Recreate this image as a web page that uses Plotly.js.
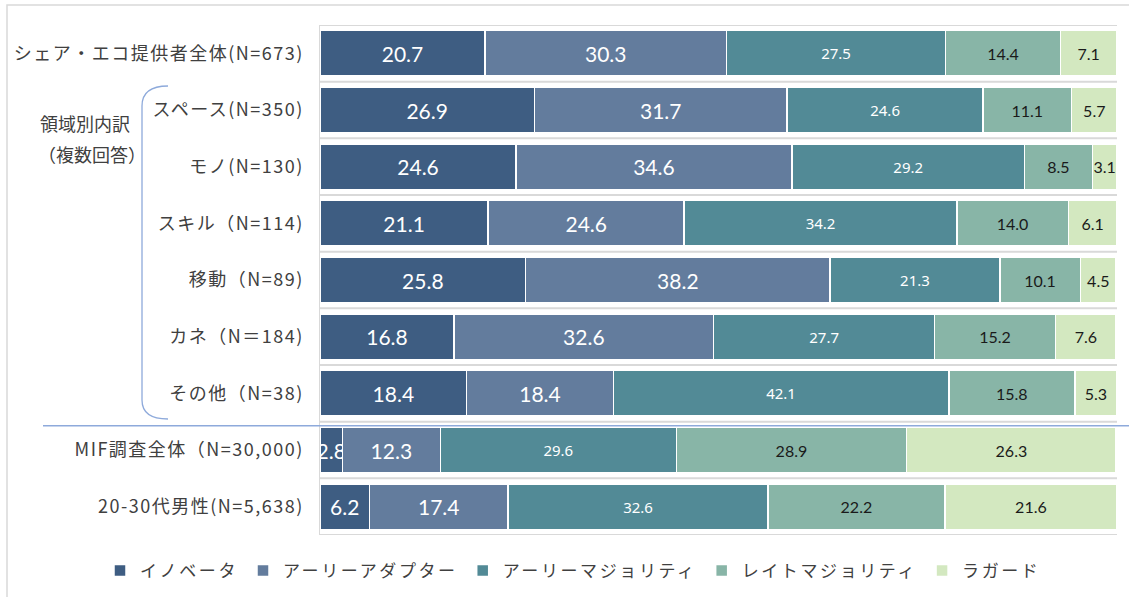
<!DOCTYPE html>
<html>
<head>
<meta charset="utf-8">
<script src="https://cdn.plot.ly/plotly-3.0.1.min.js"></script>
<style>
html,body{margin:0;padding:0;background:#fff;}
#chart{width:1129px;height:597px;}
.ytick text{letter-spacing:1.5px;}
.legendtext{letter-spacing:2.6px;}
</style>
</head>
<body>
<div id="chart"></div>
<script>
const categories = [
  "シェア・エコ提供者全体(N=673)",
  "スペース(N=350)",
  "モノ(N=130)",
  "スキル（N=114)",
  "移動（N=89)",
  "カネ（N＝184)",
  "その他（N=38)",
  "MIF調査全体（N=30,000)",
  "20-30代男性(N=5,638)"
];
const seriesNames = ["イノベータ", "アーリーアダプター", "アーリーマジョリティ", "レイトマジョリティ", "ラガード"];
const innovators      = [20.7, 26.9, 24.6, 21.1, 25.8, 16.8, 18.4, 2.8, 6.2];
const earlyAdopters   = [30.3, 31.7, 34.6, 24.6, 38.2, 32.6, 18.4, 12.3, 17.4];
const earlyMajority   = [27.5, 24.6, 29.2, 34.2, 21.3, 27.7, 42.1, 29.6, 32.6];
const lateMajority    = [14.4, 11.1, 8.5, 14.0, 10.1, 15.2, 15.8, 28.9, 22.2];
const laggards        = [7.1, 5.7, 3.1, 6.1, 4.5, 7.6, 5.3, 26.3, 21.6];
const groupLabel1 = "領域別内訳";
const groupLabel2 = "（複数回答）";

const seriesValues = [innovators, earlyAdopters, earlyMajority, lateMajority, laggards];
const colors = ["#3e5d82", "#637c9d", "#528a96", "#88b5a7", "#d3e8c0"];
const textColors = ["#ffffff", "#ffffff", "#ffffff", "#1a1a1a", "#1a1a1a"];
const textSizes = [21, 21, 15, 16, 16];
const textFamilies = ["Lato, 'Noto Sans', sans-serif", "Lato, 'Noto Sans', sans-serif", "'Noto Sans', sans-serif", "Lato, 'Noto Sans', sans-serif", "Lato, 'Noto Sans', sans-serif"];

const traces = seriesValues.map((vals, k) => ({
  type: 'bar',
  orientation: 'h',
  name: seriesNames[k],
  y: categories,
  x: vals,
  marker: {color: colors[k], line: {color: '#ffffff', width: 1.5}},
  texttemplate: '%{x:.1f}',
  textposition: 'inside',
  insidetextanchor: 'middle',
  textangle: 0,
  constraintext: 'none',
  cliponaxis: false,
  insidetextfont: {color: textColors[k], size: textSizes[k], family: textFamilies[k]},
  hoverinfo: 'none'
}));

// pixel -> paper helpers (plot area: x 320..1117, y 25..535)
const L = 320, R = 1117, T = 25, B = 535;
const px = x => (x - L) / (R - L);
const py = y => (B - y) / (B - T);

const shapes = [];
for (let i = 0; i <= categories.length; i++) {
  shapes.push({type: 'line', xref: 'paper', yref: 'y', x0: 0, x1: 1, y0: i - 0.5, y1: i - 0.5,
    line: {color: '#d9d9d9', width: 2}, layer: 'below'});
}
// separator line
shapes.push({type: 'line', xref: 'paper', yref: 'y', x0: px(43), x1: px(1129), y0: 6.57, y1: 6.57,
  line: {color: '#8eaadb', width: 1.5}});
// bracket
shapes.push({type: 'path', xref: 'paper', yref: 'paper',
  path: `M ${px(168)},${py(86)} Q ${px(142)},${py(86)} ${px(142)},${py(106)} L ${px(142)},${py(400)} Q ${px(142)},${py(419)} ${px(168)},${py(419)}`,
  line: {color: '#8eaadb', width: 1.3}});
// outer frame
shapes.push({type: 'rect', xref: 'paper', yref: 'paper', x0: px(7), x1: px(1140), y0: py(5), y1: py(610),
  line: {color: '#d9d9d9', width: 1.5}, fillcolor: 'rgba(0,0,0,0)'});

const layout = {
  width: 1129, height: 597,
  margin: {l: L, r: 1129 - R, t: T, b: 597 - B, autoexpand: false},
  paper_bgcolor: '#ffffff', plot_bgcolor: '#ffffff',
  barmode: 'stack',
  bargap: 0.2,
  font: {family: "'Noto Sans CJK JP', 'Noto Sans', sans-serif", color: '#404040'},
  xaxis: {range: [0, 100], showgrid: false, zeroline: false, showticklabels: false, showline: false, fixedrange: true},
  yaxis: {type: 'category', categoryarray: categories, range: [8.5, -0.5], showgrid: false, zeroline: false,
    showline: true, linecolor: '#d9d9d9', linewidth: 1.5, ticks: '', ticklabelstandoff: 11,
    tickfont: {size: 18, color: '#404040', family: "'Noto Sans CJK JP', sans-serif"}},
  legend: {orientation: 'h', xref: 'paper', yref: 'paper', x: px(100), xanchor: 'left', y: py(571), yanchor: 'middle',
    font: {size: 17, color: '#404040', family: "'Noto Sans CJK JP', sans-serif"}, traceorder: 'normal', itemwidth: 30},
  shapes: shapes,
  annotations: [
    {text: groupLabel1, xref: 'paper', yref: 'paper', x: px(85), y: py(123), xanchor: 'center', yanchor: 'middle',
     showarrow: false, font: {size: 18, color: '#404040'}},
    {text: groupLabel2, xref: 'paper', yref: 'paper', x: px(92), y: py(154), xanchor: 'center', yanchor: 'middle',
     showarrow: false, font: {size: 18, color: '#404040'}}
  ]
};

Plotly.newPlot('chart', traces, layout, {displayModeBar: false, staticPlot: true});
</script>
</body>
</html>
